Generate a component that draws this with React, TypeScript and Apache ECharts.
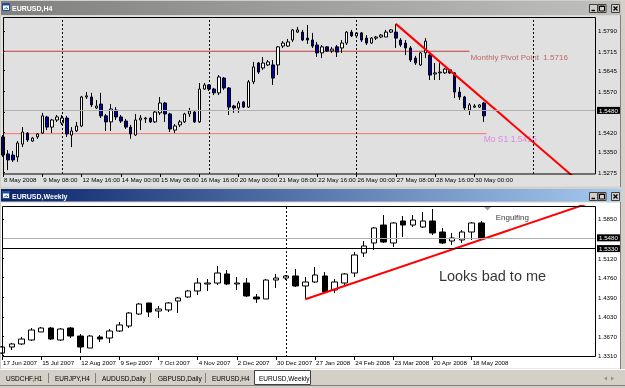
import React, { useEffect, useRef } from "react";
import * as echarts from "echarts";

const FONT = "'Liberation Sans', Arial, Helvetica, sans-serif";

// ---------- EURUSD,H4 : [open, close, low, high] ----------
const h4Candles: number[][] = [
  [1.5403, 1.5337, 1.533, 1.541], [1.5341, 1.5319, 1.5282, 1.5355], [1.5337, 1.5319, 1.5312, 1.5352],
  [1.533, 1.5381, 1.5312, 1.5388], [1.5377, 1.5421, 1.5366, 1.5439], [1.5417, 1.5392, 1.5385, 1.5421],
  [1.5388, 1.5399, 1.5385, 1.5403], [1.5403, 1.5414, 1.5396, 1.5417], [1.5417, 1.548, 1.5414, 1.5491],
  [1.5476, 1.5439, 1.5428, 1.548], [1.5439, 1.5465, 1.5417, 1.5469], [1.5465, 1.5476, 1.5458, 1.5483],
  [1.5454, 1.5472, 1.5447, 1.5483], [1.5472, 1.5414, 1.5403, 1.548], [1.541, 1.5425, 1.5366, 1.5439],
  [1.5425, 1.5443, 1.5421, 1.5458], [1.5443, 1.5549, 1.5439, 1.5553], [1.5549, 1.5553, 1.5542, 1.5567],
  [1.5549, 1.552, 1.5512, 1.5564], [1.5509, 1.5516, 1.5505, 1.5538], [1.5523, 1.548, 1.5472, 1.5564],
  [1.548, 1.5458, 1.5425, 1.5487], [1.5458, 1.5505, 1.5425, 1.5523], [1.5501, 1.5476, 1.5465, 1.5512],
  [1.5476, 1.5461, 1.5454, 1.5483], [1.5461, 1.5439, 1.5432, 1.5469], [1.5439, 1.5414, 1.5396, 1.5447],
  [1.541, 1.5465, 1.5407, 1.5487], [1.5465, 1.5472, 1.5428, 1.5483], [1.5469, 1.5472, 1.5454, 1.5476],
  [1.5472, 1.5458, 1.5454, 1.5476], [1.5458, 1.5494, 1.5454, 1.5498], [1.5491, 1.5527, 1.5483, 1.5549],
  [1.5527, 1.5487, 1.5458, 1.5531], [1.5487, 1.5432, 1.5421, 1.5491], [1.5428, 1.5443, 1.5417, 1.545],
  [1.5447, 1.5458, 1.5439, 1.5465], [1.5458, 1.5487, 1.5454, 1.5491], [1.5487, 1.5498, 1.5476, 1.5509],
  [1.5494, 1.5458, 1.5454, 1.5501], [1.5458, 1.5578, 1.5454, 1.56], [1.5578, 1.5593, 1.5575, 1.56],
  [1.5593, 1.5578, 1.5571, 1.5596], [1.5578, 1.5564, 1.5556, 1.5582], [1.5564, 1.5622, 1.5556, 1.5629],
  [1.5618, 1.5582, 1.5575, 1.5622], [1.5582, 1.5512, 1.5483, 1.5585], [1.5516, 1.5509, 1.5491, 1.552],
  [1.5509, 1.5527, 1.5491, 1.5534], [1.5531, 1.5512, 1.5509, 1.5534], [1.5512, 1.5604, 1.5509, 1.5611],
  [1.5604, 1.5659, 1.5596, 1.5677], [1.5673, 1.564, 1.5633, 1.5677], [1.5655, 1.5673, 1.5648, 1.5695],
  [1.5666, 1.5677, 1.5662, 1.5684], [1.5666, 1.5618, 1.5593, 1.5684], [1.5666, 1.5732, 1.5629, 1.5735],
  [1.5735, 1.5746, 1.5728, 1.5753], [1.5735, 1.575, 1.5732, 1.5761], [1.5757, 1.5794, 1.575, 1.5797],
  [1.5786, 1.5794, 1.5783, 1.5805], [1.5786, 1.5757, 1.5753, 1.5794], [1.5764, 1.5757, 1.5743, 1.5812],
  [1.5757, 1.5735, 1.5728, 1.5783], [1.5739, 1.571, 1.5695, 1.575], [1.571, 1.5732, 1.5691, 1.5739],
  [1.5732, 1.5717, 1.5713, 1.5735], [1.5717, 1.5724, 1.571, 1.5732], [1.5732, 1.5713, 1.5695, 1.5739],
  [1.5728, 1.5746, 1.571, 1.5757], [1.5746, 1.5786, 1.5739, 1.579], [1.5786, 1.5772, 1.5768, 1.5794],
  [1.5772, 1.5783, 1.5768, 1.5786], [1.5783, 1.5757, 1.575, 1.5786], [1.5764, 1.5746, 1.5739, 1.5775],
  [1.5746, 1.5764, 1.5743, 1.5768], [1.5764, 1.5768, 1.5757, 1.5772], [1.5768, 1.5775, 1.5764, 1.5779],
  [1.5768, 1.5786, 1.5768, 1.5794], [1.5786, 1.5794, 1.5783, 1.5797], [1.5786, 1.5764, 1.5728, 1.5816],
  [1.5757, 1.5739, 1.5732, 1.5764], [1.5746, 1.5728, 1.5702, 1.5757], [1.5728, 1.5684, 1.5677, 1.5735],
  [1.5691, 1.5673, 1.5666, 1.5699], [1.5666, 1.571, 1.5662, 1.5713], [1.571, 1.5753, 1.5691, 1.5764],
  [1.5702, 1.5629, 1.5611, 1.571], [1.5633, 1.5637, 1.5611, 1.5673], [1.5637, 1.564, 1.5611, 1.5673],
  [1.5637, 1.5651, 1.5633, 1.5655], [1.5648, 1.5637, 1.5633, 1.5651], [1.5637, 1.5567, 1.5545, 1.564],
  [1.5567, 1.5549, 1.5538, 1.5585], [1.5549, 1.5509, 1.5501, 1.5553], [1.5501, 1.552, 1.5483, 1.5527],
  [1.5512, 1.5516, 1.5509, 1.5523], [1.5512, 1.552, 1.5509, 1.5523], [1.5527, 1.548, 1.5458, 1.5531],
];
const h4TickIndex = [0, 8, 16, 24, 32, 40, 48, 56, 64, 72, 80, 88, 96];
const h4TickLabels = [
  "8 May 2008", "9 May 08:00", "12 May 16:00", "14 May 00:00", "15 May 08:00", "16 May 16:00",
  "20 May 00:00", "21 May 08:00", "22 May 16:00", "26 May 00:00", "27 May 08:00", "28 May 16:00", "30 May 00:00",
];
const h4PriceTicks = [1.579, 1.5715, 1.5645, 1.557, 1.5495, 1.542, 1.535, 1.5275];
const h4Separators = [12, 42, 72, 108];
const h4Bid = 1.548;
const monthlyPivot = 1.5716;
const monthlyS1 = 1.5415;
const pivotSpan = [0, 95];
const s1Span = [0, 98.5];
const pivotLabel = "Monthly Pivot Point  1.5716";
const s1Label = "Mo S1 1.5415";
const h4Trend = [[80, 1.5816], [118, 1.52294]];

// ---------- EURUSD,Weekly : [open, close, low, high] ----------
const wkCandles: number[][] = [
  [1.3359, 1.3471, 1.3341, 1.3489], [1.3471, 1.3527, 1.3415, 1.3545], [1.3527, 1.3619, 1.3508, 1.3657],
  [1.3601, 1.3787, 1.3582, 1.3824], [1.375, 1.3824, 1.375, 1.3842], [1.3824, 1.3619, 1.3601, 1.3842],
  [1.3601, 1.3805, 1.3582, 1.3824], [1.3824, 1.3675, 1.3638, 1.3842], [1.3675, 1.3471, 1.3359, 1.3712],
  [1.3452, 1.3675, 1.3452, 1.3694], [1.3657, 1.3619, 1.3564, 1.3694], [1.3638, 1.3768, 1.3545, 1.3805],
  [1.3768, 1.388, 1.375, 1.3936], [1.3861, 1.4103, 1.3824, 1.4121], [1.4084, 1.427, 1.4066, 1.4289],
  [1.4289, 1.4121, 1.4028, 1.4289], [1.414, 1.4177, 1.401, 1.4233], [1.4159, 1.4289, 1.4121, 1.4307],
  [1.4326, 1.4382, 1.4103, 1.44], [1.44, 1.4512, 1.4382, 1.453], [1.4512, 1.466, 1.4437, 1.4753],
  [1.4642, 1.466, 1.4512, 1.4735], [1.466, 1.4846, 1.4623, 1.4976], [1.4828, 1.4642, 1.4623, 1.4902],
  [1.4642, 1.466, 1.453, 1.4772], [1.466, 1.4419, 1.44, 1.4753], [1.44, 1.4363, 1.4289, 1.4456],
  [1.4363, 1.4716, 1.4363, 1.4735], [1.4716, 1.4753, 1.4568, 1.4828], [1.4753, 1.4791, 1.4716, 1.4809],
  [1.4791, 1.4605, 1.4586, 1.4921], [1.4605, 1.4679, 1.4363, 1.4772], [1.4679, 1.4809, 1.466, 1.4958],
  [1.4791, 1.4493, 1.4475, 1.4865], [1.453, 1.4679, 1.4475, 1.4735], [1.466, 1.4828, 1.4623, 1.4846],
  [1.4846, 1.5181, 1.4772, 1.5237], [1.5218, 1.5348, 1.5144, 1.5441], [1.5404, 1.5683, 1.5274, 1.5701],
  [1.5738, 1.5422, 1.5404, 1.5924], [1.5404, 1.5776, 1.533, 1.5794], [1.5813, 1.5738, 1.5515, 1.5906],
  [1.5738, 1.5831, 1.5701, 1.5924], [1.5701, 1.5813, 1.5683, 1.598], [1.5813, 1.559, 1.5553, 1.6036],
  [1.5608, 1.5404, 1.5385, 1.5683], [1.5441, 1.5497, 1.5367, 1.559], [1.546, 1.5608, 1.5404, 1.5646],
  [1.5608, 1.5776, 1.546, 1.5794], [1.5776, 1.548, 1.5478, 1.5813],
];
const wkTickIndex = [0, 4, 8, 12, 16, 20, 24, 28, 32, 36, 40, 44, 48];
const wkTickLabels = [
  "17 Jun 2007", "15 Jul 2007", "12 Aug 2007", "9 Sep 2007", "7 Oct 2007", "4 Nov 2007", "2 Dec 2007",
  "30 Dec 2007", "27 Jan 2008", "24 Feb 2008", "23 Mar 2008", "20 Apr 2008", "18 May 2008",
];
const wkPriceTicks = [1.585, 1.512, 1.476, 1.439, 1.403, 1.367, 1.331];
const wkSeparators = [29];
const wkBid = 1.548;
const wkLevelA = 1.533;
const wkLevelB = 1.5292;
const wkTrend = [[31, 1.4357], [60, 1.6147]];
const engulfingText = "Engulfing";
const commentText = "Looks bad to me";

const tabNames = ["USDCHF,H1", "EURJPY,H4", "AUDUSD,Daily", "GBPUSD,Daily", "EURUSD,H4", "EURUSD,Weekly"];

// ---------- layout ----------
const H4_STEP = 4.91;
const WK_STEP = 9.785;

function timeAxis(grid: number, max: number, ticks: number[], labels: string[]) {
  return {
    type: "value",
    gridIndex: grid,
    min: 0,
    max,
    axisLine: { show: false },
    splitLine: { show: false },
    axisTick: { show: true, length: 3, customValues: ticks, lineStyle: { color: "#000", width: 1 } },
    axisLabel: {
      show: true,
      customValues: ticks,
      formatter: (v: number) => {
        const k = ticks.indexOf(Math.round(v));
        return k >= 0 ? labels[k] : "";
      },
      align: "left",
      margin: 2,
      padding: [0, 0, 0, 1],
      fontSize: 6.2,
      color: "#000",
      fontFamily: FONT,
    },
  };
}

function priceAxis(grid: number, min: number, max: number, ticks: number[]) {
  return {
    type: "value",
    gridIndex: grid,
    position: "right",
    min,
    max,
    axisLine: { show: false },
    splitLine: { show: false },
    axisTick: { show: true, length: 2, customValues: ticks, lineStyle: { color: "#000", width: 1 } },
    axisLabel: {
      show: true,
      customValues: ticks,
      formatter: (v: number) => v.toFixed(4),
      margin: 3,
      fontSize: 6.2,
      color: "#000",
      fontFamily: FONT,
    },
  };
}

const boxLabel = (v: number) => ({
  show: true,
  position: "end",
  distance: 2,
  formatter: v.toFixed(4),
  backgroundColor: "#000",
  color: "#fff",
  padding: [1, 2, 0, 2],
  fontSize: 6.2,
  fontFamily: FONT,
});

const dashed = { color: "#000", type: [2, 2], width: 1, opacity: 1 };
const solid = (color: string) => ({ color, type: "solid", width: 1, opacity: 1 });

function textPoint(x: number, y: number, text: string, color: string, size: number) {
  return {
    value: [x, y],
    label: { show: true, position: "right", distance: 0, formatter: text, color, fontSize: size, fontFamily: FONT },
  };
}

function segmentSeries(axis: number, span: number[], y: number, color: string) {
  return {
    type: "line",
    xAxisIndex: axis,
    yAxisIndex: axis,
    data: [[span[0], y], [span[1], y]],
    symbol: "none",
    silent: true,
    clip: true,
    z: 1,
    lineStyle: { color, width: 1 },
  };
}

function chrome() {
  const els: any[] = [];
  const rect = (x: number, y: number, w: number, h: number, fill: any, z = -10, stroke?: string) => ({
    type: "rect",
    silent: true,
    z,
    shape: { x, y, width: w, height: h },
    style: { fill, stroke: stroke || null, lineWidth: 1 },
  });
  const grad = (a: string, b: string) => ({
    type: "linear", x: 0, y: 0, x2: 1, y2: 0,
    colorStops: [{ offset: 0, color: a }, { offset: 1, color: b }],
  });
  const line = (x1: number, y1: number, x2: number, y2: number, stroke: string, w = 1, z = 12) => ({
    type: "line", silent: true, z, shape: { x1, y1, x2, y2 }, style: { stroke, lineWidth: w },
  });
  const text = (x: number, y: number, t: string, fill: string, size: number, bold = false, z = 12) => ({
    type: "text", silent: true, z, x, y,
    style: { text: t, fill, fontSize: size, fontWeight: bold ? "bold" : "normal", fontFamily: FONT, verticalAlign: "middle" },
  });

  els.push(rect(0, 0, 625, 388, "#d4d0c8", -20));
  // top window
  els.push(rect(1, 1, 620, 14, grad("#808080", "#c0c0c0"), -15));
  els.push(rect(1, 15.5, 620, 171, "#e0e0e0", -15));
  els.push(line(620.5, 15, 620.5, 187, "#808080", 1, -14));
  // bottom window
  els.push(rect(1, 189, 620, 12.5, grad("#0a246a", "#a6caf0"), -15));
  els.push(rect(1, 202.5, 620, 166, "#ffffff", -15));
  els.push(line(620.5, 202, 620.5, 369, "#808080", 1, -14));

  // title bars: icons, texts and buttons
  const bars = [
    { y: 1, title: "EURUSD,H4" },
    { y: 189, title: "EURUSD,Weekly" },
  ];
  bars.forEach((b) => {
    const cy = b.y + 6.5;
    els.push(rect(2.5, cy - 4, 7, 7, "#ffffff", 12, "#1c4c9c"));
    els.push(rect(2.5, cy - 4, 7, 2, "#1c4c9c", 12));
    els.push(line(4, cy + 2, 6, cy, "#1c4c9c", 1));
    els.push(line(6, cy, 8, cy + 1.5, "#1c4c9c", 1));
    els.push(text(12, cy + 0.5, b.title, "#ffffff", 7, true));
    const by = b.y + 3;
    [589, 597.5, 611].forEach((bx, k) => {
      els.push(rect(bx + 0.5, by + 0.5, 8, 8, "#d4d0c8", 12, "#404040"));
      if (k === 0) els.push(line(bx + 2.5, by + 6.5, bx + 6, by + 6.5, "#000", 1.5, 13));
      if (k === 1) {
        els.push(rect(bx + 2, by + 2, 5, 5, "none", 13, "#000"));
        els.push(line(bx + 2, by + 2.5, bx + 7, by + 2.5, "#000", 1, 13));
      }
      if (k === 2) {
        els.push(line(bx + 2.5, by + 2.5, bx + 6.5, by + 6.5, "#000", 1.3, 13));
        els.push(line(bx + 6.5, by + 2.5, bx + 2.5, by + 6.5, "#000", 1.3, 13));
      }
    });
  });

  // plot frames
  els.push({ type: "rect", silent: true, z: 20, shape: { x: 3.5, y: 17.5, width: 592, height: 156.5 }, style: { fill: "none", stroke: "#000", lineWidth: 1 } });
  els.push({ type: "rect", silent: true, z: 20, shape: { x: 2.5, y: 206.5, width: 593, height: 150 }, style: { fill: "none", stroke: "#000", lineWidth: 1 } });
  // chart shift marker
  els.push({ type: "polygon", silent: true, z: 20, shape: { points: [[484, 207], [491, 207], [487.5, 210.5]] }, style: { fill: "#a0a0a0" } });

  // tabs
  els.push(line(0, 369.5, 625, 369.5, "#ffffff", 1, -12));
  els.push(line(0, 385.5, 625, 385.5, "#808080", 1, -12));
  const tabX = [6, 55, 102, 158, 212, 259];
  const sepX = [48.5, 95.5, 150.5, 205.5];
  els.push(rect(254.5, 370.5, 56, 14, "#ffffff", 11, "#404040"));
  tabNames.forEach((t, i) => els.push(text(tabX[i], 378, t, "#000", 6.5)));
  sepX.forEach((x) => els.push(line(x, 373, x, 383, "#808080", 1)));
  els.push({ type: "polygon", silent: true, z: 12, shape: { points: [[604, 378.5], [607, 376.5], [607, 380.5]] }, style: { fill: "#909090" } });
  els.push({ type: "polygon", silent: true, z: 12, shape: { points: [[614, 378.5], [611, 376.5], [611, 380.5]] }, style: { fill: "#909090" } });
  return els;
}

function buildOption() {
  const h4Data = h4Candles.map((c, i) => [i, c[0], c[1], c[2], c[3]]);
  const wkData = wkCandles.map((c, i) => [i, c[0], c[1], c[2], c[3]]);

  return {
    animation: false,
    graphic: chrome(),
    grid: [
      { left: 3, top: 17, width: 592, height: 157 },
      { left: 2, top: 206, width: 593, height: 151 },
    ],
    xAxis: [
      timeAxis(0, 592 / H4_STEP, h4TickIndex, h4TickLabels),
      timeAxis(1, 593 / WK_STEP, wkTickIndex, wkTickLabels),
    ],
    yAxis: [
      priceAxis(0, 1.52677, 1.58411, h4PriceTicks),
      priceAxis(1, 1.32849, 1.60916, wkPriceTicks),
    ],
    series: [
      segmentSeries(0, pivotSpan, monthlyPivot, "#c03c3c"),
      segmentSeries(0, s1Span, monthlyS1, "#ff7070"),
      {
        type: "candlestick",
        xAxisIndex: 0,
        yAxisIndex: 0,
        data: h4Data,
        barWidth: 3,
        clip: true,
        silent: true,
        itemStyle: { color: "#ffffff", color0: "#0000a0", borderColor: "#000", borderColor0: "#000", borderWidth: 1 },
        markLine: {
          silent: true,
          symbol: ["none", "none"],
          label: { show: false },
          emphasis: { disabled: true },
          data: [
            ...h4Separators.map((x) => ({ xAxis: x, lineStyle: dashed })),
            { yAxis: h4Bid, lineStyle: solid("#b0b0b0"), label: boxLabel(h4Bid) },
          ],
        },
      },
      {
        type: "line",
        xAxisIndex: 0,
        yAxisIndex: 0,
        data: h4Trend,
        symbol: "none",
        clip: true,
        silent: true,
        z: 4,
        lineStyle: { color: "#ff0000", width: 2 },
      },
      {
        type: "scatter",
        xAxisIndex: 0,
        yAxisIndex: 0,
        symbolSize: 1,
        silent: true,
        itemStyle: { color: "rgba(0,0,0,0)" },
        data: [
          textPoint(95.1, 1.5695, pivotLabel, "#b04848", 8),
          textPoint(97.8, 1.5394, s1Label, "#e070e8", 8.5),
        ],
      },
      {
        type: "candlestick",
        xAxisIndex: 1,
        yAxisIndex: 1,
        data: wkData,
        barWidth: 6,
        clip: true,
        silent: true,
        itemStyle: { color: "#ffffff", color0: "#000000", borderColor: "#000", borderColor0: "#000", borderWidth: 1 },
        markLine: {
          silent: true,
          symbol: ["none", "none"],
          label: { show: false },
          emphasis: { disabled: true },
          data: [
            ...wkSeparators.map((x) => ({ xAxis: x, lineStyle: dashed })),
            { yAxis: wkBid, lineStyle: solid("#b0b0b0"), label: boxLabel(wkBid) },
            { yAxis: wkLevelA, lineStyle: solid("#000000"), label: boxLabel(wkLevelA) },
            { yAxis: wkLevelB, lineStyle: solid("#000000") },
          ],
        },
      },
      {
        type: "line",
        xAxisIndex: 1,
        yAxisIndex: 1,
        data: wkTrend,
        symbol: "none",
        clip: true,
        silent: true,
        z: 4,
        lineStyle: { color: "#ff0000", width: 2 },
      },
      {
        type: "scatter",
        xAxisIndex: 1,
        yAxisIndex: 1,
        symbolSize: 1,
        silent: true,
        itemStyle: { color: "rgba(0,0,0,0)" },
        data: [
          textPoint(50.4, 1.5887, engulfingText, "#000", 8),
          textPoint(44.6, 1.479, commentText, "#000", 14.5),
        ],
      },
    ],
  };
}

export default function App() {
  const ref = useRef<HTMLDivElement>(null);
  useEffect(() => {
    if (!ref.current) return;
    const chart = echarts.init(ref.current, null, { renderer: "svg" });
    chart.setOption(buildOption() as any);
    return () => chart.dispose();
  }, []);
  return <div ref={ref} style={{ position: "fixed", left: 0, top: 0, width: 625, height: 388 }} />;
}
